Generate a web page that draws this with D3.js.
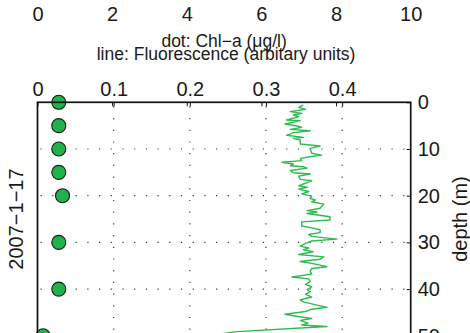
<!DOCTYPE html>
<html>
<head>
<meta charset="utf-8">
<script src="https://cdn.jsdelivr.net/npm/d3@7"></script>
<style>
  html, body { margin: 0; padding: 0; background: #fff; }
  svg { display: block; }
  text { font-family: "Liberation Sans", Arial, Helvetica, sans-serif; fill: #1a1a1a; }
</style>
</head>
<body>
<svg id="chart" width="470" height="333"></svg>
<script>
// Tick values for the three axes
const depthTicks = [0, 10, 20, 30, 40, 50];
const fluorTicks = [0, 0.1, 0.2, 0.3, 0.4];
const chlTicks = [0, 2, 4, 6, 8, 10];

// Bottle samples: chlorophyll-a at discrete depths (dots)
const sampleDepth = [0, 5, 10, 15, 20, 30, 40, 50];
const chlA = [0.57, 0.57, 0.57, 0.57, 0.67, 0.57, 0.57, 0.15];

// CTD profile: fluorescence against depth (line)
const profileDepth = [
  0.6, 1.07, 1.5, 2.0, 2.36, 2.72, 3.08, 3.79, 3.93, 4.65,
  5.07, 5.36, 5.79, 6.08, 6.5, 7.07, 7.5, 7.72, 8.07, 8.93,
  9.36, 9.86, 10.9, 11.3, 11.6, 12.0, 12.5, 12.85, 13.2, 13.6,
  13.8, 14.1, 14.6, 15.1, 15.35, 15.8, 16.5, 16.8, 17.9, 18.2,
  18.6, 19.1, 19.6, 20.1, 20.6, 20.9, 21.3, 21.8, 22.7, 23.2,
  23.5, 23.8, 24.5, 25.2, 25.6, 26.5, 26.9, 27.3, 27.9, 28.3,
  28.7, 29.3, 29.7, 30.2, 30.8, 31.2, 31.6, 32.0, 32.6, 33.1,
  33.6, 34.1, 34.5, 35.2, 35.6, 36.2, 36.8, 37.4, 37.8, 38.4,
  39.0, 39.5, 40.1, 40.6, 41.1, 41.7, 42.3, 42.8, 43.9, 44.3,
  44.8, 45.4, 45.8, 46.3, 46.7, 47.3, 47.7, 48.0, 49.1, 49.6,
  50.0
];
const fluorescence = [
  0.349, 0.343, 0.352, 0.332, 0.347, 0.336, 0.343, 0.327, 0.345, 0.325,
  0.341, 0.347, 0.332, 0.358, 0.336, 0.327, 0.349, 0.336, 0.345, 0.345,
  0.371, 0.358, 0.360, 0.373, 0.360, 0.345, 0.347, 0.321, 0.336, 0.332,
  0.349, 0.354, 0.332, 0.336, 0.358, 0.343, 0.345, 0.360, 0.343, 0.354,
  0.343, 0.356, 0.347, 0.360, 0.358, 0.365, 0.360, 0.376, 0.371, 0.354,
  0.367, 0.354, 0.384, 0.384, 0.347, 0.347, 0.360, 0.371, 0.371, 0.356,
  0.360, 0.393, 0.360, 0.352, 0.345, 0.356, 0.349, 0.362, 0.343, 0.376,
  0.371, 0.345, 0.360, 0.380, 0.360, 0.358, 0.360, 0.334, 0.356, 0.358,
  0.352, 0.360, 0.354, 0.358, 0.352, 0.360, 0.345, 0.350, 0.380, 0.360,
  0.352, 0.325, 0.340, 0.360, 0.345, 0.355, 0.347, 0.380, 0.262, 0.240,
  0.210
];

const svg = d3.select("#chart");
const plotLeft = 37.5, plotRight = 410.7, plotTop = 102.3, plotBottom = 335.8;
const tickFont = "20px";
const titleFont = "17.5px";

const x = d3.scaleLinear().domain([0, 0.49]).range([plotLeft, plotRight]);
const xChl = d3.scaleLinear().domain([0, 10]).range([plotLeft, plotRight]);
const y = d3.scaleLinear().domain([0, 50]).range([plotTop, plotBottom]);

// dotted grid
const grid = svg.append("g")
  .attr("stroke", "#3a3a3a")
  .attr("stroke-width", 1.2)
  .attr("stroke-dasharray", "1.2 10.5");
grid.selectAll("line.v")
  .data(fluorTicks.filter(d => d > 0))
  .join("line")
  .attr("class", "v")
  .attr("x1", d => x(d)).attr("x2", d => x(d))
  .attr("y1", plotTop + 4).attr("y2", plotBottom);
grid.selectAll("line.h")
  .data(depthTicks.filter(d => d > 0 && d < 50))
  .join("line")
  .attr("class", "h")
  .attr("x1", plotLeft + 3).attr("x2", plotRight)
  .attr("y1", d => y(d)).attr("y2", d => y(d));

// fluorescence profile
const profile = profileDepth.map((d, i) => ({ depth: d, value: fluorescence[i] }));
svg.append("path")
  .datum(profile)
  .attr("fill", "none")
  .attr("stroke", "#2dba50")
  .attr("stroke-width", 1.4)
  .attr("stroke-linejoin", "round")
  .attr("d", d3.line().x(d => x(d.value)).y(d => y(d.depth)));

// chlorophyll samples
svg.append("g")
  .selectAll("circle")
  .data(sampleDepth.map((d, i) => ({ depth: d, value: chlA[i] })))
  .join("circle")
  .attr("cx", d => xChl(d.value))
  .attr("cy", d => y(d.depth))
  .attr("r", 7)
  .attr("fill", "#22b24b")
  .attr("stroke", "#1a1a1a")
  .attr("stroke-width", 1.1);

// axes box
svg.append("rect")
  .attr("x", plotLeft).attr("y", plotTop)
  .attr("width", plotRight - plotLeft).attr("height", plotBottom - plotTop)
  .attr("fill", "none")
  .attr("stroke", "#111")
  .attr("stroke-width", 1.7);

function styleAxis(g) {
  g.select(".domain").remove();
  g.selectAll(".tick line").attr("stroke", "#111").attr("stroke-width", 1);
  g.selectAll(".tick text")
    .attr("fill", "#1a1a1a")
    .style("font-family", "'Liberation Sans', Arial, Helvetica, sans-serif")
    .style("font-size", tickFont);
}

// depth axis on the right, ticks pointing inward
svg.append("g")
  .attr("transform", `translate(${plotRight},0)`)
  .call(d3.axisRight(y).tickValues(depthTicks).tickFormat(d3.format("d"))
    .tickSizeInner(-4).tickSizeOuter(0).tickPadding(7))
  .call(styleAxis);

// fluorescence axis on top of the box
svg.append("g")
  .attr("transform", `translate(0,${plotTop})`)
  .call(d3.axisTop(x).tickValues(fluorTicks).tickFormat(d => d === 0 ? "0" : d3.format(".1f")(d))
    .tickSizeInner(-4).tickSizeOuter(0).tickPadding(6))
  .call(styleAxis);

// chlorophyll tick marks on the box edge
svg.append("g")
  .attr("transform", `translate(0,${plotTop})`)
  .call(d3.axisTop(xChl).tickValues(chlTicks.filter(d => d > 0 && d < 10)).tickFormat("")
    .tickSizeInner(-4).tickSizeOuter(0))
  .call(styleAxis);

// chlorophyll scale labels
svg.append("g")
  .attr("transform", "translate(0,20.7)")
  .call(d3.axisTop(xChl).tickValues(chlTicks).tickFormat(d3.format("d"))
    .tickSize(0).tickPadding(0))
  .call(styleAxis);

// titles
const midX = (plotLeft + plotRight) / 2;
svg.append("text").attr("x", midX).attr("y", 47).attr("text-anchor", "middle")
  .style("font-size", titleFont).text("dot: Chl−a (μg/l)");
svg.append("text").attr("x", midX + 2).attr("y", 60).attr("text-anchor", "middle")
  .style("font-size", titleFont).text("line: Fluorescence (arbitary units)");

svg.append("text")
  .attr("transform", `translate(23,${(plotTop + plotBottom) / 2}) rotate(-90)`)
  .attr("text-anchor", "middle")
  .style("font-size", tickFont).text("2007−1−17");

svg.append("text")
  .attr("transform", `translate(467,${(plotTop + plotBottom) / 2}) rotate(-90)`)
  .attr("text-anchor", "middle")
  .style("font-size", tickFont).text("depth (m)");
</script>
</body>
</html>
